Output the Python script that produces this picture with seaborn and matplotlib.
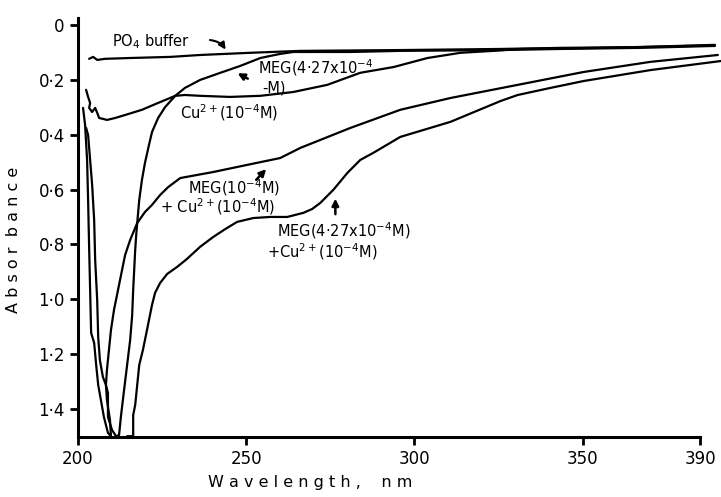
import numpy as np
import pandas as pd
import seaborn as sns
import matplotlib.pyplot as plt

sns.set_style("ticks")
plt.rcParams['font.family'] = ['DejaVu Sans']
plt.rcParams['mathtext.default'] = 'regular'
plt.rcParams['text.color'] = 'black'
plt.rcParams['axes.labelcolor'] = 'black'

# trazas (longitud de onda en nm, absorbancia)
po4_nm = [203.3, 204.5, 205.7, 208.0, 215.5, 227.4, 236.3, 251.2, 266.1, 295.8, 325.6, 343.5, 367.3, 389.3]
po4_abs = [0.123, 0.116, 0.127, 0.123, 0.120, 0.116, 0.109, 0.101, 0.094, 0.091, 0.087, 0.083, 0.080, 0.072]

meg_nm = [202.4, 203.0, 203.6, 204.2, 204.8, 205.1, 205.7, 206.0, 206.5, 207.4, 208.3, 208.9, 208.9, 210.1,
          211.3, 212.2, 212.8, 213.7, 214.6, 215.5, 216.1, 216.4, 216.7, 217.0, 217.3, 217.6, 218.2, 219.0,
          219.9, 221.1, 222.0, 223.8, 225.9, 228.9, 231.8, 236.3, 242.3, 248.2, 254.2, 260.1, 264.0, 281.0,
          295.8, 325.6, 343.5, 367.3, 389.3]
meg_abs = [0.375, 0.401, 0.492, 0.583, 0.711, 0.857, 1.003, 1.138, 1.222, 1.284, 1.313, 1.342, 1.430, 1.477,
           1.500, 1.496, 1.423, 1.331, 1.240, 1.149, 1.058, 0.966, 0.893, 0.820, 0.766, 0.722, 0.638, 0.565,
           0.503, 0.437, 0.390, 0.339, 0.299, 0.258, 0.229, 0.200, 0.174, 0.149, 0.120, 0.105, 0.098, 0.098,
           0.094, 0.091, 0.087, 0.083, 0.076]

cu_nm = [202.4, 203.0, 203.6, 203.3, 204.2, 205.1, 205.7, 206.3, 207.4, 208.6, 211.0, 214.0, 219.0, 223.8,
         228.9, 231.8, 236.3, 245.2, 254.2, 264.0, 274.1, 283.9, 293.8, 303.9, 313.7, 323.5, 331.5, 355.4, 389.3]
cu_abs = [0.236, 0.262, 0.284, 0.302, 0.317, 0.302, 0.320, 0.339, 0.342, 0.346, 0.339, 0.328, 0.309, 0.284,
          0.258, 0.255, 0.258, 0.262, 0.258, 0.244, 0.218, 0.174, 0.153, 0.120, 0.101, 0.094, 0.087, 0.083, 0.074]

meg10_cu_nm = [201.5, 202.1, 202.7, 203.0, 203.3, 203.6, 203.9, 204.8, 205.4, 206.0, 206.8, 207.7, 208.9, 209.8,
               209.5, 208.6, 208.3, 208.6, 209.2, 209.8, 210.7, 211.9, 213.1, 214.0, 215.5, 217.6, 219.9, 222.0,
               224.4, 226.8, 230.4, 240.2, 250.3, 260.1, 266.1, 281.0, 295.8, 310.7, 330.7, 350.3, 370.2, 390.2]
meg10_cu_abs = [0.302, 0.364, 0.492, 0.638, 0.809, 0.966, 1.123, 1.160, 1.240, 1.313, 1.368, 1.430, 1.488, 1.500,
                1.441, 1.368, 1.313, 1.258, 1.185, 1.112, 1.039, 0.966, 0.893, 0.839, 0.784, 0.722, 0.682, 0.656,
                0.620, 0.591, 0.558, 0.536, 0.510, 0.485, 0.448, 0.375, 0.309, 0.266, 0.218, 0.171, 0.134, 0.109]

meg427_cu_nm = [214.6, 216.4, 216.4, 217.0, 217.6, 218.2, 219.3, 220.2, 221.1, 222.0, 222.9, 224.4, 226.5, 229.5,
                232.4, 236.3, 240.2, 243.8, 247.3, 252.1, 257.1, 262.2, 267.0, 269.6, 272.0, 275.9, 280.1, 283.9,
                287.8, 295.8, 310.7, 325.6, 330.7, 340.5, 350.3, 370.2, 391.1]
meg427_cu_abs = [1.500, 1.500, 1.423, 1.386, 1.313, 1.240, 1.185, 1.131, 1.076, 1.021, 0.977, 0.941, 0.908, 0.882,
                 0.853, 0.809, 0.773, 0.744, 0.718, 0.704, 0.700, 0.700, 0.685, 0.671, 0.649, 0.601, 0.539, 0.492,
                 0.466, 0.408, 0.353, 0.277, 0.255, 0.229, 0.204, 0.164, 0.131]

y_ticks = [0, 0.2, 0.4, 0.6, 0.8, 1.0, 1.2, 1.4]
y_labels = ["0", "0·2", "0·4", "0·6", "0·8", "1·0", "1·2", "1·4"]
x_ticks = [200, 250, 300, 350, 384.9]
x_labels = ["200", "250", "300", "350", "390"]

fig = plt.figure(figsize=(7.21, 4.97), dpi=100)
ax = fig.add_axes([0.1082, 0.1207, 0.8627, 0.8431])

curvas = [(po4_nm, po4_abs), (meg_nm, meg_abs), (cu_nm, cu_abs),
          (meg10_cu_nm, meg10_cu_abs), (meg427_cu_nm, meg427_cu_abs)]
for xs, ys in curvas:
    df = pd.DataFrame({"nm": xs, "abs": ys})
    sns.lineplot(data=df, x="nm", y="abs", sort=False, estimator=None,
                 color="black", linewidth=1.6, ax=ax, clip_on=False)

ax.set_xlim(200, 384.9)
ax.set_ylim(1.503, -0.026)
ax.set_xticks(x_ticks, labels=x_labels)
ax.set_yticks(y_ticks, labels=y_labels)
sns.despine(ax=ax)
for s in ["left", "bottom"]:
    ax.spines[s].set_linewidth(2.2)
    ax.spines[s].set_color("black")
ax.tick_params(direction="out", length=6, width=2, labelsize=12, colors="black")

ax.set_xlabel("W a v e l e n g t h ,    n m", fontsize=11.5)
ax.set_ylabel("A b s o r  b a n c e", fontsize=11.5)
ax.xaxis.set_label_coords(0.373, -0.09)
ax.yaxis.set_label_coords(-0.092, 0.47)

fs = 10.5
ax.text(210.1, 0.061, "PO$_4$ buffer", fontsize=fs, va="center")
ax.annotate("", xy=(244.3, 0.098), xytext=(238.4, 0.054),
            arrowprops=dict(arrowstyle="-|>", color="black", lw=1.5,
                            connectionstyle="arc3,rad=-0.3"))

ax.text(253.6, 0.156, "MEG(4·27x10$^{-4}$", fontsize=fs, va="center")
ax.text(254.8, 0.229, "-M)", fontsize=fs, va="center")
ax.annotate("", xy=(246.7, 0.171), xytext=(251.2, 0.200),
            arrowprops=dict(arrowstyle="-|>", color="black", lw=1.8))

ax.text(230.4, 0.320, "Cu$^{2+}$(10$^{-4}$M)", fontsize=fs, va="center")

ax.text(232.7, 0.594, "MEG(10$^{-4}$M)", fontsize=fs, va="center")
ax.text(224.4, 0.664, "+ Cu$^{2+}$(10$^{-4}$M)", fontsize=fs, va="center")
ax.annotate("", xy=(256.5, 0.518), xytext=(252.4, 0.572),
            arrowprops=dict(arrowstyle="-|>", color="black", lw=1.8))

ax.text(259.2, 0.750, "MEG(4·27x10$^{-4}$M)", fontsize=fs, va="center")
ax.text(256.3, 0.828, "+Cu$^{2+}$(10$^{-4}$M)", fontsize=fs, va="center")
ax.annotate("", xy=(276.5, 0.623), xytext=(276.5, 0.700),
            arrowprops=dict(arrowstyle="-|>", color="black", lw=1.8))

fig.savefig("out.png", dpi=100)
